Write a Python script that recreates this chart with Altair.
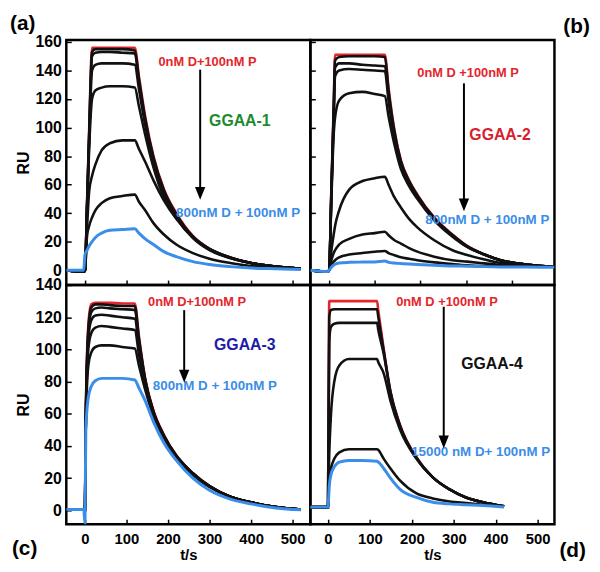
import altair as alt
import pandas as pd

# ---------------- data ----------------
# Panel (a) GGAA-1
TA = [-45, -3, 0, 5, 10, 17, 25, 40, 60, 90, 120, 130, 145, 165, 190, 220, 260, 300, 350, 400, 460, 520]
A_RED = [0, -1, 0, 48, 98, 156, 156, 156, 156, 156, 156, 136, 108, 80, 57, 40, 24, 15, 9, 5, 2.5, 1]
A_BLACK = [
    [0, -1, 0, 46, 95, 153, 155, 155, 155, 155, 154, 134, 106, 79, 56, 39, 23.5, 14.8, 8.8, 5, 2.5, 1],
    [0, -1, 0, 45, 93, 150, 152.5, 153, 153, 152.5, 152, 132, 105, 78, 55.5, 39, 23.5, 14.8, 8.8, 5, 2.5, 1],
    [0, -1, 0, 44, 90, 140, 144, 145, 145, 145, 144, 127, 102, 76, 54, 38, 23, 14.5, 8.5, 5, 2.5, 1],
    [0, -1, 0, 42, 85, 120, 126, 128, 129, 129, 128, 115, 95, 72, 51, 36.5, 22.5, 14, 8.5, 5, 2.5, 1],
    [0, -1, 0, 30, 55, 66, 74, 84, 89, 91, 91, 85, 76, 63, 49, 36, 23, 15, 9, 5, 2.5, 1],
    [0, -1, 0, 24, 31, 37, 42, 47, 50.5, 52, 53, 48, 42, 33, 25, 18, 12, 8, 5, 3, 1.5, 1],
]
A_BLUE = [0, 0, 11, 14, 17, 20, 23, 26, 28, 28.5, 29, 26, 22, 18, 13, 9.5, 6, 4, 2.5, 1.5, 1, 0.5]

# Panel (b) GGAA-2
TB = [-41, -3, 0, 5, 10, 13, 22, 44, 73, 100, 122, 130, 143, 157, 175, 193, 230, 270, 302, 340, 375, 430, 493]
B_RED = [0, -1, 0, 58, 116, 151, 151, 151, 151, 151, 151, 128, 98, 77, 63, 53, 37, 25, 17, 11, 7, 4, 2.5]
B_BLACK = [
    [0, -1, 0, 56, 112, 147, 149.5, 150, 150, 150, 149.5, 126, 97, 76.5, 62.5, 52.5, 36.5, 24.5, 16.8, 11, 7, 4, 2.5],
    [0, -1, 0, 55, 110, 142, 145, 145, 144, 143.5, 143, 122, 95, 75, 61.5, 52, 36, 24.5, 16.8, 11, 7, 4, 2.5],
    [0, -1, 0, 54, 105, 136, 140, 141, 140.5, 140, 139.5, 119, 93, 74, 61, 51.5, 36, 24, 16.5, 11, 7, 4, 2.5],
    [0, -1, 0, 50, 95, 107, 119, 124, 125, 123.5, 122, 108, 88, 71, 59, 50, 35, 23.5, 16.3, 10.8, 7, 4, 2.5],
    [0, -1, 0, 14, 25, 31, 42, 56.5, 62.5, 64.5, 65.5, 60, 51, 44, 36, 30, 21, 14, 10.6, 7.5, 5, 3.5, 2.5],
    [0, -1, 0, 7, 12, 14, 18, 22, 25, 26, 27, 24.5, 21, 18.7, 15.5, 13, 9.5, 7, 6, 4.8, 3.7, 3, 2.5],
    [0, -1, 0, 4, 6, 7, 9, 11, 12, 13, 13.5, 12, 10.5, 9, 8, 7, 5.5, 4.3, 3.5, 3, 2.8, 2.5, 2.5],
]
B_BLUE = [0, -1, 0, 2, 3.5, 4.2, 5, 5.5, 5.7, 5.8, 6.5, 5.5, 5, 4.7, 4.3, 4, 3.5, 3, 2.8, 2.5, 2.3, 2.2, 2]

# Panel (c) GGAA-3
TC = [-45, -3, 0, 2, 8, 15, 25, 40, 60, 90, 120, 130, 145, 165, 190, 220, 260, 300, 350, 400, 460, 520]
C_RED = [0.5, 0.5, 0, 60, 115, 128, 129, 129, 129, 128.5, 128.5, 108, 82, 62, 47, 34, 23, 15, 8.5, 5, 2, 0.5]
C_BLACK = [
    [0.5, 0.5, 0, 58, 112, 126, 128, 128, 127.5, 127, 127, 107, 81.5, 61.5, 46.5, 34, 23, 15, 8.5, 5, 2, 0.5],
    [0.5, 0.5, 0, 56, 110, 123, 125.5, 126, 125.5, 125, 124.5, 105, 81, 61, 46.5, 34, 23, 15, 8.5, 5, 2, 0.5],
    [0.5, 0.5, 0, 55, 106, 118, 121, 121.5, 121, 120, 119, 102, 80, 60.5, 46, 33.5, 22.5, 14.8, 8.5, 5, 2, 0.5],
    [0.5, 0.5, 0, 54, 100, 110, 113.5, 114.5, 114, 113, 112, 97, 78, 60, 45.5, 33.5, 22.5, 14.8, 8.5, 5, 2, 0.5],
    [0.5, 0.5, 0, 52, 90, 98, 101.5, 102.5, 102.5, 101.5, 100.5, 90, 75, 58.5, 45, 33, 22, 14.5, 8.3, 4.8, 2, 0.5],
]
C_BLUE = [0.5, 0.5, -8, 50, 70, 77, 80.5, 82, 82, 82, 81, 76, 68, 55, 42, 31, 20, 12.5, 7, 4, 1.5, 0.3]

# Panel (d) GGAA-4
TD = [-43, -3, 0, 3, 7, 15, 27, 50, 80, 117, 120, 133, 149, 172, 211, 250, 290, 329, 370, 420]
D_RED = [2, 2, 2, 130, 130, 130, 130, 130, 130, 130, 124, 100, 74, 53, 33, 20.5, 13, 8, 5, 2.5]
D_BLACK = [
    [2, 2, 2, 120, 124.5, 125, 125, 125, 125, 125, 120, 99, 73.5, 52.5, 32.7, 20.5, 13, 8, 5, 2.5],
    [2, 2, 2, 105, 114, 116, 116.5, 116.5, 116.5, 116.5, 112, 97, 73, 52, 32.5, 20.5, 13, 8, 5, 2.5],
    [2, 2, 2, 35, 59, 80, 90, 94, 94, 94, 92, 85, 68, 50, 32, 20.5, 13, 8, 5, 2.5],
    [2, 2, 2, 20, 26, 32, 36, 38, 38, 38, 37.5, 32, 26, 18.4, 10.5, 7.4, 5.5, 4.5, 3.5, 2.5],
]
D_BLUE = [2, 2, 2, 15, 22, 27, 30, 31, 31, 30.5, 30, 26, 20, 13, 8, 5, 4, 3.5, 3, 2]

# annotations: texts and their (t, RU) anchors
A_TEXT = ["0nM D+100nM P", "GGAA-1", "800nM D + 100nM P"]
A_TEXT_T = [295, 373, 369]
A_TEXT_V = [146, 104.6, 40]
B_TEXT = ["0nM D +100nM P", "GGAA-2", "800nM D + 100nM P"]
B_TEXT_T = [304, 374, 346]
B_TEXT_V = [138, 94.4, 35.5]
C_TEXT = ["0nM D+100nM P", "GGAA-3", "800nM D + 100nM P"]
C_TEXT_T = [270, 385, 313]
C_TEXT_V = [129.5, 103, 77.3]
D_TEXT = ["0nM D +100nM P", "GGAA-4", "15000 nM D+ 100nM P"]
D_TEXT_T = [283.6, 391, 364]
D_TEXT_V = [129.5, 90.7, 36.4]
# arrows: t, top RU, tip RU
A_ARROW = [277.5, 140.6, 49.4]
B_ARROW = [295, 131, 41.3]
C_ARROW = [239, 124.4, 79.4]
D_ARROW = [276, 126.5, 38.5]

# ---------------- styling ----------------
FONT = "Liberation Sans"
RED = "#e4252b"
BLUE = "#3a8de8"
BLACK = "#111111"
LBL_RED = "#e4252b"
LBL_BLUE = "#3a8de8"
TITLE_COLORS = {"GGAA-1": "#1e8a2e", "GGAA-2": "#d61f2c", "GGAA-3": "#1c1ca8", "GGAA-4": "#111111"}
W = 247
H1 = 248
H2 = 242


def long_df(T, runs):
    rows = []
    for name, vals in runs:
        for t, v in zip(T, vals):
            rows.append({"t": t, "RU": v, "run": name})
    return pd.DataFrame(rows)


def panel(T, red, blacks, blue, texts, text_t, text_v, arrow, xdom, ydom, h,
          xvals, yvals, xlab, ylab, yticks, tag, tag_x, tag_y):
    if xlab:
        xaxis = alt.Axis(values=xvals, labels=True, title="t/s", ticks=True, tickSize=5,
                         tickWidth=1.5, tickColor="black", domain=False, grid=False,
                         offset=-5, labelPadding=8, labelFont=FONT, labelFontSize=15,
                         labelFontWeight="bold", labelColor="black", labelFlush=False,
                         labelOverlap=False, titleFont=FONT, titleFontSize=15,
                         titleFontWeight="bold", titleColor="black", titlePadding=1)
    else:
        xaxis = alt.Axis(values=xvals, labels=False, title=None, ticks=True, tickSize=5,
                         tickWidth=1.5, tickColor="black", domain=False, grid=False,
                         offset=-5)
    if ylab:
        yaxis = alt.Axis(values=yvals, labels=True, title="RU", ticks=True, tickSize=5,
                         tickWidth=1.5, tickColor="black", domain=False, grid=False,
                         offset=-5, labelPadding=5, labelFont=FONT, labelFontSize=16,
                         labelFontWeight="bold", labelColor="black", labelFlush=False,
                         labelOverlap=False, titleFont=FONT, titleFontSize=16,
                         titleFontWeight="bold", titleColor="black", titlePadding=4)
    elif yticks:
        yaxis = alt.Axis(values=yvals, labels=False, title=None, ticks=True, tickSize=5,
                         tickWidth=1.5, tickColor="black", domain=False, grid=False,
                         offset=-5)
    else:
        yaxis = None

    x = alt.X("t:Q", scale=alt.Scale(domain=xdom, nice=False, zero=False), axis=xaxis)
    y = alt.Y("RU:Q", scale=alt.Scale(domain=ydom, nice=False, zero=False), axis=yaxis)

    red_l = alt.Chart(long_df(T, [("red", red)])).mark_line(
        color=RED, strokeWidth=2.6, interpolate="monotone", clip=True
    ).encode(x=x, y=y, detail="run:N")
    black_l = alt.Chart(long_df(T, [(f"k{i}", b) for i, b in enumerate(blacks)])).mark_line(
        color=BLACK, strokeWidth=2.6, interpolate="monotone", clip=True
    ).encode(x=x, y=y, detail="run:N")
    blue_l = alt.Chart(long_df(T, [("blue", blue)])).mark_line(
        color=BLUE, strokeWidth=3, interpolate="monotone", clip=True
    ).encode(x=x, y=y, detail="run:N")

    ann = pd.DataFrame({
        "t": text_t, "RU": text_v, "label": texts,
        "color": [LBL_RED, TITLE_COLORS[texts[1]], LBL_BLUE],
        "size": [13, 16, 13.5],
    })
    txt = alt.Chart(ann).mark_text(font=FONT, fontWeight="bold", align="center",
                                   baseline="middle").encode(
        x=x, y=y, text="label:N",
        color=alt.Color("color:N", scale=None),
        size=alt.Size("size:Q", scale=None),
    )

    arr = pd.DataFrame({"t": [arrow[0]], "RU": [arrow[1]], "RU2": [arrow[2] + 6]})
    rule = alt.Chart(arr).mark_rule(color="black", strokeWidth=2).encode(
        x=x, y=y, y2="RU2:Q")
    head_df = pd.DataFrame({"t": [arrow[0]], "RU": [arrow[2]]})
    head = alt.Chart(head_df).mark_point(
        shape="M-0.8,-2L0.8,-2L0,0Z", filled=True, color="black", opacity=1, size=169
    ).encode(x=x, y=y)

    tag_l = alt.Chart(pd.DataFrame({"tag": [tag]})).mark_text(
        font=FONT, fontWeight="bold", fontSize=21, align="left", baseline="top",
        color="black"
    ).encode(text="tag:N", x=alt.value(tag_x), y=alt.value(tag_y))

    return alt.layer(red_l, black_l, blue_l, txt, rule, head, tag_l).properties(
        width=W, height=h)


XV5 = [0, 100, 200, 300, 400, 500]
XV4 = [0, 100, 200, 300, 400]
YA = [0, 20, 40, 60, 80, 100, 120, 140, 160]
YC = [0, 20, 40, 60, 80, 100, 120, 140]

pa = panel(TA, A_RED, A_BLACK, A_BLUE, A_TEXT, A_TEXT_T, A_TEXT_V, A_ARROW,
           [-45, 543], [-10.4, 161.4], H1, XV5, YA, False, True, True, "(a)", -57, -27)
pb = panel(TB, B_RED, B_BLACK, B_BLUE, B_TEXT, B_TEXT_T, B_TEXT_V, B_ARROW,
           [-41, 493], [-10.4, 161.4], H1, XV4, YA, False, False, True, "(b)", 256, -24)
pc = panel(TC, C_RED, C_BLACK, C_BLUE, C_TEXT, C_TEXT_T, C_TEXT_V, C_ARROW,
           [-45, 543], [-8.6, 140], H2, XV5, YC, True, True, True, "(c)", -55, 256)
pd_ = panel(TD, D_RED, D_BLACK, D_BLUE, D_TEXT, D_TEXT_T, D_TEXT_V, D_ARROW,
            [-42, 540], [-8.6, 140], H2, XV5, YC, True, False, False, "(d)", 252, 258)

chart = alt.concat(pa, pb, pc, pd_, columns=2, spacing=0, bounds="flush").properties(
    padding=0, background="white"
).configure_view(stroke="black", strokeWidth=2.5)

chart.save("out.html", embed_options={"renderer": "svg", "actions": False})
